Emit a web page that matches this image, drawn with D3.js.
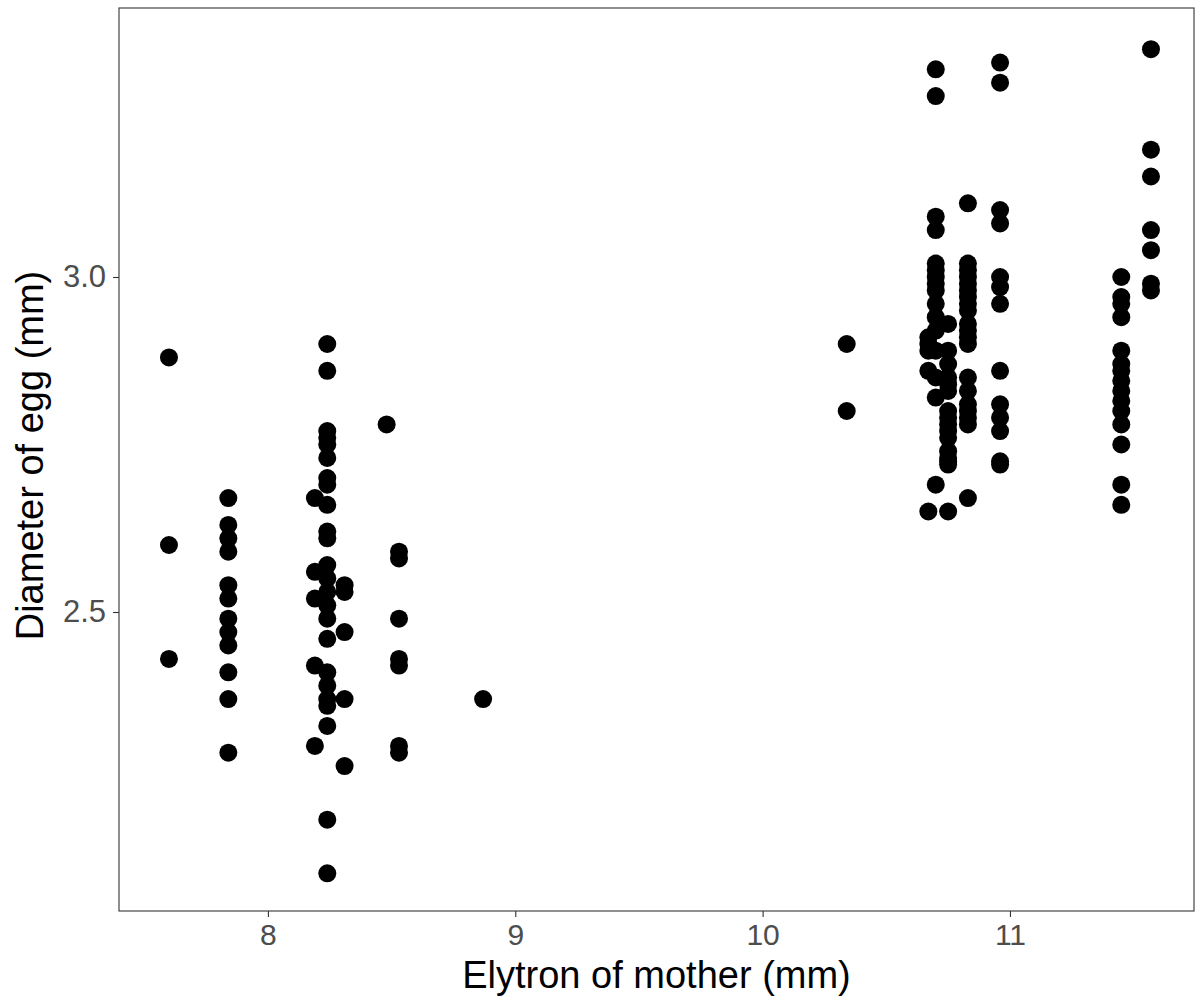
<!DOCTYPE html>
<html>
<head>
<meta charset="utf-8">
<script src="https://cdn.jsdelivr.net/npm/d3@7"></script>
<style>
  html, body { margin: 0; padding: 0; background: #fff; }
  svg { display: block; }
</style>
</head>
<body>
<svg id="chart" width="1196" height="1000"></svg>
<script>
// Elytron length of mother (mm) for each vertical group of points
const elytronGroups = [7.6, 7.84, 8.19, 8.24, 8.31, 8.48, 8.53, 8.87,
                       10.34, 10.67, 10.70, 10.75, 10.83, 10.96, 11.45, 11.57];
// Diameter of egg (mm) for each group, same order as elytronGroups
const eggDiameters = [
  [2.88, 2.60, 2.43],
  [2.67, 2.63, 2.61, 2.59, 2.54, 2.52, 2.49, 2.47, 2.45, 2.41, 2.37, 2.29],
  [2.67, 2.56, 2.52, 2.42, 2.30],
  [2.90, 2.86, 2.77, 2.76, 2.75, 2.73, 2.70, 2.69, 2.66, 2.62, 2.61, 2.57,
   2.55, 2.53, 2.51, 2.49, 2.46, 2.41, 2.39, 2.37, 2.36, 2.33, 2.19, 2.11],
  [2.54, 2.53, 2.47, 2.37, 2.27],
  [2.78],
  [2.59, 2.58, 2.49, 2.43, 2.42, 2.30, 2.29],
  [2.37],
  [2.90, 2.80],
  [2.91, 2.90, 2.89, 2.86, 2.65],
  [3.31, 3.27, 3.09, 3.07, 3.02, 3.01, 3.00, 2.99, 2.98, 2.96, 2.94, 2.92,
   2.89, 2.85, 2.82, 2.69],
  [2.93, 2.89, 2.87, 2.85, 2.84, 2.83, 2.80, 2.79, 2.78, 2.77, 2.76, 2.74,
   2.73, 2.725, 2.72, 2.65],
  [3.11, 3.02, 3.01, 3.00, 2.99, 2.98, 2.97, 2.96, 2.95, 2.93, 2.92, 2.91,
   2.90, 2.85, 2.83, 2.81, 2.80, 2.79, 2.78, 2.67],
  [3.32, 3.29, 3.10, 3.08, 3.00, 2.985, 2.96, 2.86, 2.81, 2.79, 2.77, 2.725, 2.72],
  [3.00, 2.97, 2.96, 2.94, 2.89, 2.87, 2.86, 2.845, 2.83, 2.815, 2.80, 2.78,
   2.75, 2.69, 2.66],
  [3.34, 3.19, 3.15, 3.07, 3.04, 2.99, 2.98]
];
const xTicks = [8, 9, 10, 11];
const yTicks = [2.5, 3.0];
const xDomain = [7.398, 11.744];
const yDomain = [2.0537, 3.4015];
const xTitle = "Elytron of mother (mm)";
const yTitle = "Diameter of egg (mm)";

const points = [];
elytronGroups.forEach((x, i) => eggDiameters[i].forEach(y => points.push({x, y})));

const svg = d3.select("#chart");
const margin = {left: 119, right: 2, top: 8, bottom: 89};
const W = 1196, H = 1000;

const x = d3.scaleLinear().domain(xDomain).range([margin.left, W - margin.right]);
const y = d3.scaleLinear().domain(yDomain).range([H - margin.bottom, margin.top]);

const font = "'Liberation Sans', Arial, sans-serif";

// points
svg.append("g")
  .selectAll("circle")
  .data(points)
  .join("circle")
  .attr("cx", d => x(d.x))
  .attr("cy", d => y(d.y))
  .attr("r", 9)
  .attr("fill", "#000");

// panel border
svg.append("rect")
  .attr("x", margin.left)
  .attr("y", margin.top)
  .attr("width", W - margin.right - margin.left)
  .attr("height", H - margin.bottom - margin.top)
  .attr("fill", "none")
  .attr("stroke", "#333333")
  .attr("stroke-width", 1.1);

// x axis
const xAxis = svg.append("g")
  .attr("transform", `translate(0,${H - margin.bottom})`)
  .call(d3.axisBottom(x).tickValues(xTicks).tickSize(6).tickPadding(7).tickFormat(d3.format("d")));
xAxis.select(".domain").remove();
xAxis.selectAll(".tick line").attr("stroke", "#333333").attr("stroke-width", 1.1);
xAxis.selectAll(".tick text")
  .attr("fill", "#4d4d4d")
  .style("font-family", font)
  .style("font-size", "30px");

// y axis
const yAxis = svg.append("g")
  .attr("transform", `translate(${margin.left},0)`)
  .call(d3.axisLeft(y).tickValues(yTicks).tickSize(6).tickPadding(7).tickFormat(d3.format(".1f")));
yAxis.select(".domain").remove();
yAxis.selectAll(".tick line").attr("stroke", "#333333").attr("stroke-width", 1.1);
yAxis.selectAll(".tick text")
  .attr("fill", "#4d4d4d")
  .style("font-family", font)
  .style("font-size", "31px");

// axis titles
svg.append("text")
  .attr("x", (margin.left + W - margin.right) / 2)
  .attr("y", 988)
  .attr("text-anchor", "middle")
  .style("font-family", font)
  .style("font-size", "38px")
  .attr("fill", "#000")
  .text(xTitle);

svg.append("text")
  .attr("transform", `translate(43,${(margin.top + H - margin.bottom) / 2 - 4}) rotate(-90)`)
  .attr("text-anchor", "middle")
  .style("font-family", font)
  .style("font-size", "38px")
  .attr("fill", "#000")
  .text(yTitle);
</script>
</body>
</html>
